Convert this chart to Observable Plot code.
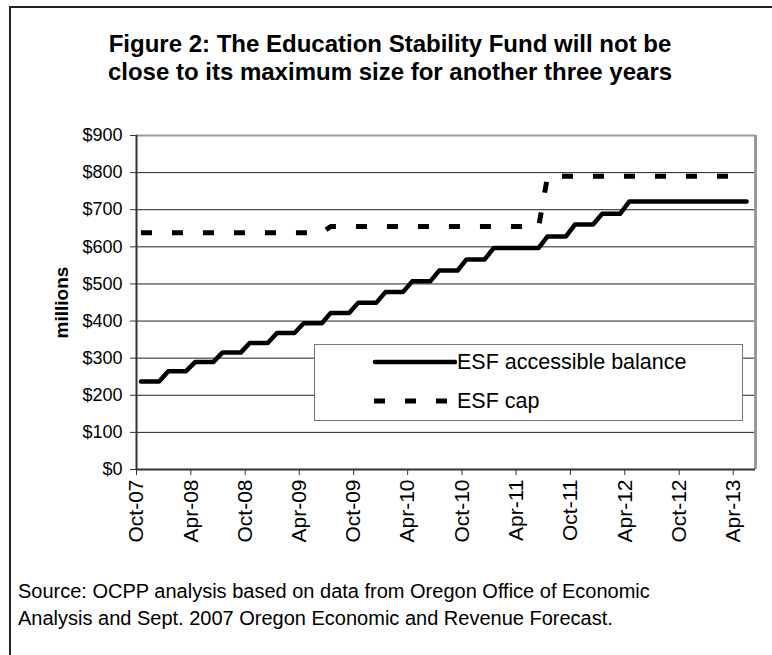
<!DOCTYPE html>
<html>
<head>
<meta charset="utf-8">
<script src="https://cdn.jsdelivr.net/npm/d3@7"></script>
<script src="https://cdn.jsdelivr.net/npm/@observablehq/plot@0.6"></script>
<style>
  html, body { margin: 0; padding: 0; background: #fff; }
  #wrap { position: relative; width: 772px; height: 655px; overflow: hidden; font-family: "Liberation Sans", Arial, sans-serif; color: #000; }
  #frame { position: absolute; left: 9px; top: 6px; width: 900px; height: 900px; border-left: 2px solid #222; border-top: 2px solid #222; }
  #title { position: absolute; left: 9px; width: 762px; top: 30px; text-align: center; font-weight: bold; font-size: 24px; line-height: 28px; }
  #chart { position: absolute; left: 0; top: 120px; }
  #legend { position: absolute; left: 314px; top: 344px; width: 429px; height: 77px; background: #fff; border: 1px solid #777; box-sizing: border-box; }
  #legend .row { position: absolute; left: 57px; height: 22px; display: flex; align-items: center; font-size: 21.5px; }
  #legend svg { display: block; }
  #caption { position: absolute; left: 18px; top: 578px; font-size: 20px; line-height: 27px; }
</style>
</head>
<body>
<div id="wrap">
  <div id="frame"></div>
  <div id="title">Figure 2: The Education Stability Fund will not be<br>close to its maximum size for another three years</div>
  <div id="chart"></div>
  <div id="legend"></div>
  <div id="caption">Source: OCPP analysis based on data from Oregon Office of Economic<br>Analysis and Sept. 2007 Oregon Economic and Revenue Forecast.</div>
</div>
<script>
// Monthly series, Oct-07 .. May-13 (values in $ millions)
const startYear = 2007, startMonth = 9; // October 2007
const balance = [
  237, 237, 237, 265, 265, 265, 290, 290, 290, 315, 315, 315,
  341, 341, 341, 368, 368, 368, 394, 394, 394, 422, 422, 422,
  449, 449, 449, 478, 478, 478, 507, 507, 507, 536, 536, 536,
  566, 566, 566, 597, 597, 597, 597, 597, 597, 628, 628, 628,
  660, 660, 660, 689, 689, 689, 722, 722, 722, 722, 722, 722,
  722, 722, 722, 722, 722, 722, 722, 722
];
const cap = [
  638, 638, 638, 638, 638, 638, 638, 638, 638, 638, 638, 638,
  638, 638, 638, 638, 638, 638, 638, 638, 638, 655, 655, 655,
  655, 655, 655, 655, 655, 655, 655, 655, 655, 655, 655, 655,
  655, 655, 655, 655, 655, 655, 655, 655, 655, 790, 790, 790,
  790, 790, 790, 790, 790, 790, 790, 790, 790, 790, 790, 790,
  790, 790, 790, 790, 790, 790, 790, 790
];
const tickLabels = ["Oct-07","Apr-08","Oct-08","Apr-09","Oct-09","Apr-10","Oct-10","Apr-11","Oct-11","Apr-12","Oct-12","Apr-13"];
const yTicks = [0, 100, 200, 300, 400, 500, 600, 700, 800, 900];
const seriesNames = ["ESF accessible balance", "ESF cap"];

const monthDate = (i, day) => new Date(Date.UTC(startYear, startMonth + i, day));
const rowsBal = balance.map((v, i) => ({date: monthDate(i, 16), value: v}));
const rowsCap = cap.map((v, i) => ({date: monthDate(i, 16), value: v}));
const tickDates = tickLabels.map((_, k) => monthDate(k * 6, 1));
const labelOf = new Map(tickDates.map((d, k) => [+d, tickLabels[k]]));
const xDomain = [monthDate(0, 1), monthDate(balance.length, 15)];

const plot = Plot.plot({
  width: 772,
  height: 450,
  marginLeft: 136,
  marginRight: 17,
  marginTop: 15,
  marginBottom: 101,
  style: {fontFamily: "'Liberation Sans', Arial, sans-serif", fontSize: "17px", color: "#000", background: "transparent"},
  x: {type: "utc", domain: xDomain, label: null},
  y: {domain: [0, 900], label: null},
  marks: [
    Plot.gridY(yTicks, {stroke: "#222", strokeOpacity: 1, strokeWidth: 1}),
    Plot.ruleY([900], {stroke: "#999", strokeWidth: 2}),
    Plot.ruleX([xDomain[1]], {stroke: "#999", strokeWidth: 3}),
    Plot.ruleX([xDomain[0]], {stroke: "#333", strokeWidth: 2}),
    Plot.ruleY([0], {stroke: "#333", strokeWidth: 2}),
    Plot.axisX({ticks: tickDates, tickFormat: d => labelOf.get(+d), tickRotate: -90, tickSize: 6, tickPadding: 4, label: null, fontSize: 21, stroke: "#333"}),
    Plot.axisY({ticks: yTicks, tickFormat: d => "$" + d, tickSize: 6, tickPadding: 8, fontSize: 18, label: null, stroke: "#333"}),
    Plot.axisY({ticks: [], tickSize: 0, label: "millions", labelAnchor: "center", labelArrow: "none", labelOffset: 82, fontSize: 19}),
    Plot.line(rowsCap, {x: "date", y: "value", stroke: "#000", strokeWidth: 5, strokeDasharray: "11,20", strokeLinecap: "butt"}),
    Plot.line(rowsBal, {x: "date", y: "value", stroke: "#000", strokeWidth: 4.5, strokeLinecap: "round", strokeLinejoin: "round"})
  ]
});
document.getElementById("chart").appendChild(plot);
plot.querySelectorAll("text").forEach(t => { if (t.textContent === "millions") { t.setAttribute("font-weight", "bold"); t.setAttribute("font-size", "19"); } });

// legend
const legend = document.getElementById("legend");
const rows = [
  {name: seriesNames[0], top: 6, dash: null, sw: 4.5},
  {name: seriesNames[1], top: 45, dash: "11,20", sw: 5}
];
rows.forEach(r => {
  const row = document.createElement("div");
  row.className = "row";
  row.style.top = r.top + "px";
  const ns = "http://www.w3.org/2000/svg";
  const s = document.createElementNS(ns, "svg");
  s.setAttribute("width", 85); s.setAttribute("height", 22);
  const l = document.createElementNS(ns, "line");
  l.setAttribute("x1", r.dash ? 2 : 3); l.setAttribute("x2", r.dash ? 85 : 83);
  l.setAttribute("y1", 11); l.setAttribute("y2", 11);
  l.setAttribute("stroke", "#000"); l.setAttribute("stroke-width", r.sw);
  if (r.dash) l.setAttribute("stroke-dasharray", r.dash); else l.setAttribute("stroke-linecap", "round");
  s.appendChild(l);
  const txt = document.createElement("span");
  txt.textContent = r.name;
  row.appendChild(s); row.appendChild(txt);
  legend.appendChild(row);
});
</script>
</body>
</html>
